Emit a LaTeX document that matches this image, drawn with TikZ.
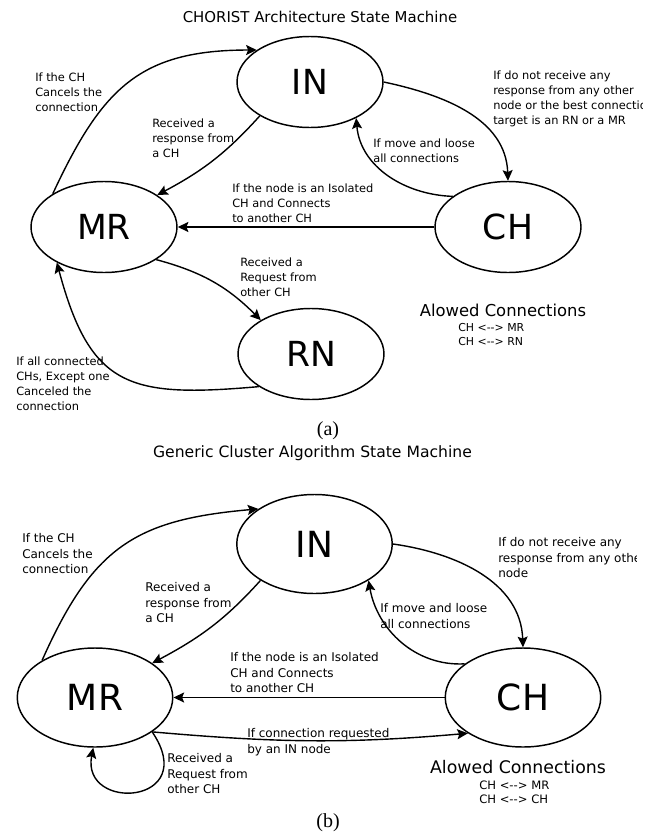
\documentclass[tikz,border=0pt]{standalone}
\usepackage{fontspec}
\setmainfont{DejaVu Sans}
\newfontfamily\capfont{Liberation Serif}
\usetikzlibrary{shapes.geometric,arrows.meta}
\begin{document}
\begin{tikzpicture}[x=0.75pt,y=0.75pt,
  st/.style={ellipse,draw,line width=1.1pt,inner sep=0pt},
  sta/.style={st,minimum width=109.5pt,minimum height=68.25pt,font=\fontsize{25.9}{30}\selectfont},
  stb/.style={st,minimum width=116.6pt,minimum height=74.25pt,font=\fontsize{27}{32}\selectfont},
  arr/.style={line width=1.05pt,-{Stealth[length=8pt,width=7.5pt,inset=1.5pt]}},
  laba/.style={anchor=north west,inner sep=0pt,align=left,font=\fontsize{8.55}{11.25}\selectfont},
  labb/.style={anchor=north west,inner sep=0pt,align=left,font=\fontsize{9}{11.85}\selectfont},
  titlea/.style={anchor=base,inner sep=0pt,font=\fontsize{11.2}{13}\selectfont},
  titleb/.style={anchor=base,inner sep=0pt,font=\fontsize{11.7}{14}\selectfont},
  alowa/.style={anchor=base,inner sep=0pt,font=\fontsize{12.3}{14}\selectfont},
  alowb/.style={anchor=base,inner sep=0pt,font=\fontsize{13}{15}\selectfont},
  smalla/.style={anchor=base west,inner sep=0pt,font=\fontsize{8.2}{10}\selectfont},
  smallb/.style={anchor=base west,inner sep=0pt,font=\fontsize{8.7}{10}\selectfont},
  capt/.style={anchor=base,inner sep=0pt,font=\capfont\fontsize{15}{17}\selectfont}
]
\useasboundingbox (0,0) rectangle (659,-832);

% ---------- (a) ----------
\node[titlea] (ta) at (320,-22.4) {CHORIST Architecture State Machine};
\node[sta] (INa) at (310,-82) {IN};
\node[sta] (MRa) at (104,-227) {MR};
\node[sta] (CHa) at (508,-227) {CH};
\node[sta] (RNa) at (311,-354) {RN};

\draw[arr] (MRa.147) to[out=65,in=180,looseness=1.2] (INa.149);
\draw[arr] (INa.214) to[out=228,in=28] (MRa.31);
\draw[arr] (INa.0) to[out=-12,in=92] (CHa.90);
\draw[arr] (CHa.151) to[out=178,in=275] (INa.322);
\draw[arr] (CHa) -- (MRa);
\draw[arr] (MRa.328) to[out=-15,in=135] (RNa.146);
\draw[arr] (RNa.212) to[out=185,in=285,looseness=1.4] (MRa.217);

\node[laba] (la1) at (35,-73) {If the CH\\Cancels the\\connection};
\node[laba] (la2) at (152,-119) {Received a\\response from\\a CH};
\begin{scope}
\clip (0,0) rectangle (642,-832);
\node[laba] (la3) at (493,-71) {If do not receive any\\response from any other\\node or the best connection\\target is an RN or a MR};
\end{scope}
\node[laba] (la4) at (373,-139) {If move and loose\\all connections};
\node[laba] (la5) at (232,-184) {If the node is an Isolated\\CH and Connects\\to another CH};
\node[laba] (la6) at (240,-258) {Received a\\Request from\\other CH};
\node[laba] (la7) at (16,-357) {If all connected\\CHs, Except one\\Canceled the\\connection};

\node[alowa] (aca) at (503,-316) {Alowed Connections};
\node[smalla] (ca1) at (458,-331.9) {CH <-{}-> MR};
\node[smalla] (ca2) at (458,-345.9) {CH <-{}-> RN};

\node[capt] (capa) at (328,-435) {(a)};

% ---------- (b) ----------
\node[titleb] (tb) at (312.5,-457.6) {Generic Cluster Algorithm State Machine};
\node[stb] (INb) at (314.5,-544) {IN};
\node[stb] (MRb) at (95,-697.5) {MR};
\node[stb] (CHb) at (523,-697.5) {CH};

\draw[arr] (MRb.145) to[out=66,in=185,looseness=1.2] (INb.148);
\draw[arr] (INb.214) to[out=228,in=28] (MRb.31.5);
\draw[arr] (INb.0) to[out=-8,in=92] (CHb.90);
\draw[arr] (CHb.150) to[out=183,in=280] (INb.326);
\draw[arr] (CHb) -- (MRb);
\draw[arr] (MRb.-31.5) to[out=-5,in=185] (CHb.213);
\draw[arr] (MRb.-31.5) to[out=-56,in=259,out distance=66pt,in distance=49.5pt] (MRb.268);

\node[labb] (lb1) at (22,-533) {If the CH\\Cancels the\\connection};
\node[labb] (lb2) at (145,-582) {Received a\\response from\\a CH};
\begin{scope}
\clip (0,0) rectangle (636,-832);
\node[labb] (lb3) at (498,-537) {If do not receive any\\response from any other\\node};
\end{scope}
\node[labb] (lb4) at (380,-603) {If move and loose\\all connections};
\node[labb] (lb5) at (230,-652) {If the node is an Isolated\\CH and Connects\\to another CH};
\node[labb] (lb6) at (247,-728) {If connection requested\\by an IN node};
\node[labb] (lb7) at (167,-753) {Received a\\Request from\\other CH};

\node[alowb] (acb) at (518,-773) {Alowed Connections};
\node[smallb] (cb1) at (479,-789.2) {CH <-{}-> MR};
\node[smallb] (cb2) at (479,-803.2) {CH <-{}-> CH};

\node[capt] (capb) at (328,-827) {(b)};
\end{tikzpicture}
\end{document}
